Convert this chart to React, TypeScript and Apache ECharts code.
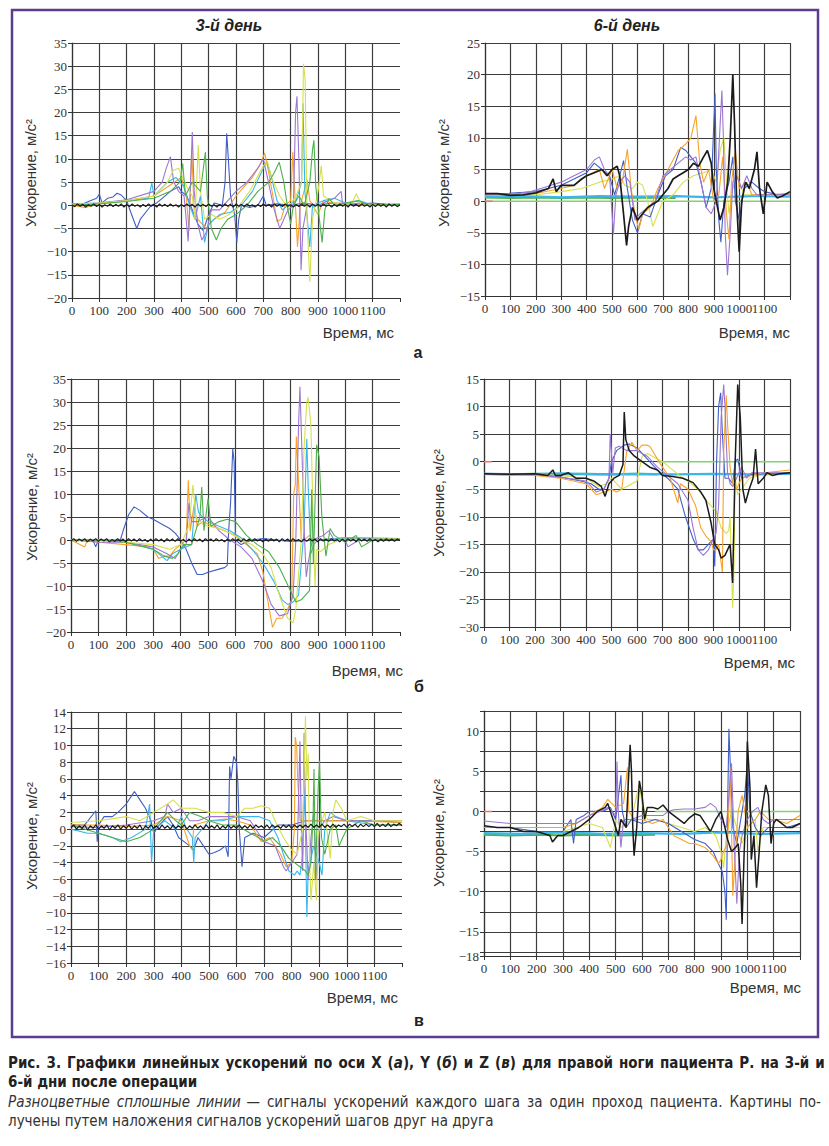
import React, { useEffect, useRef } from 'react';
import * as echarts from 'echarts';

// ---------- DATA (time in ms, acceleration in m/s^2) ----------
const X_TICKS_MAX = 1200;

// Panel а, 3-й день
const a3Blue = [[0,0.5],[30,0],[60,0.8],[90,1.5],[100,2.4],[110,0.5],[130,1.5],[150,1.8],[165,2.6],[180,2.2],[200,1],[215,-1.5],[237,-5],[250,-3],[270,-1.5],[290,0],[310,0.5],[330,1.5],[360,3],[390,4],[400,3],[420,2],[440,-1],[460,-4],[480,-5.5],[500,-2],[520,0.5],[550,0],[560,5],[566,15.5],[572,10],[580,2],[595,-2],[603,-8],[610,-3],[620,0],[650,-0.5],[680,0],[700,2],[710,0],[750,0.3],[800,0],[850,0.5],[900,0],[950,0.5],[1000,0],[1100,0.5],[1200,0]];
const a3Orange = [[0,0],[50,-0.5],[100,0.5],[200,1],[300,2],[350,4],[400,6],[418,2],[428,-5.5],[438,12],[446,0],[460,-3],[490,-5],[520,-3],[560,-1.5],[600,2],[630,4],[660,6],[690,9],[705,11.3],[720,7],[735,2],[750,-3.5],[765,-3],[780,0],[800,1],[808,11.5],[815,3],[825,-9],[835,0],[860,5.5],[870,1],[900,-2],[920,1],[950,0.5],[1000,0.5],[1100,0],[1200,0]];
const a3Cyan = [[0,0.3],[100,0.5],[200,1],[280,1.5],[292,4.8],[300,2],[350,5],[380,6],[410,4],[430,0],[450,-3],[470,2],[485,-8],[500,-4],[540,-2],[580,-1.5],[620,0],[660,3],[700,8],[712,9.5],[730,6],[750,1],[770,-1],[790,0],[820,1],[840,5],[845,22],[852,3],[870,-9],[880,0],[920,1],[960,1.5],[1000,0.5],[1050,1],[1100,0],[1200,0.3]];
const a3Purple = [[0,0.2],[100,0.5],[200,1.2],[300,3],[330,5],[345,8],[360,10.5],[372,5],[390,3],[410,2],[425,-7.8],[432,2],[440,15.8],[447,3],[460,-4],[475,-7.5],[490,-6],[510,-1],[540,-1],[570,1],[600,3],[640,5],[680,8],[700,10],[715,6],[740,-1],[760,-5],[775,-3],[790,-1],[810,0],[818,20],[823,23.5],[830,10],[838,-14],[845,-5],[860,0],[900,0],[960,1.5],[985,3],[990,0],[1050,0.5],[1200,0]];
const a3Yellow = [[0,0.2],[100,0.5],[200,1],[300,2],[350,5],[370,7.5],[390,8],[420,4],[440,2],[450,-3],[462,13],[470,3],[485,-3],[510,-2],[540,-3],[560,-2.5],[600,-1],[650,3],[700,8.5],[715,9.5],[730,6],[760,2],[790,-0.5],[820,2],[840,5],[847,30.5],[853,27],[860,-3],[870,-16.5],[880,-3],[900,3],[912,8.5],[920,2],[960,0.5],[1020,0],[1040,2.5],[1060,0],[1200,0.3]];
const a3Green = [[0,0],[100,0.3],[200,0.8],[300,1.5],[360,3],[395,5],[405,9],[415,2],[440,5],[470,3],[488,11.5],[495,2],[510,-5],[528,-7.5],[545,-5],[570,-3],[600,-2],[640,0],[680,3],[720,5],[740,7],[758,9.3],[775,5],[790,-1],[800,-4],[810,0],[830,2],[850,0],[870,5],[880,12],[885,14],[892,4],[905,-3],[915,-8],[925,-1],[940,1.5],[960,0],[1050,1],[1080,0],[1200,0.2]];
const a3Black = [[0,0.1],[10,-0.3],[20,0.3],[30,-0.2],[40,0.2],[50,-0.4],[60,0.1],[70,-0.2],[80,0.3],[90,-0.3],[100,0.2],[110,-0.4],[120,0.1],[130,-0.2],[140,0.3],[150,-0.3],[160,0.2],[170,-0.2],[180,0.3],[190,-0.4],[200,0.2],[210,-0.3],[220,0.3],[230,-0.2],[240,0.1],[250,-0.4],[260,0.2],[270,-0.3],[280,0.3],[290,-0.2],[300,0.2],[310,-0.4],[320,0.3],[330,-0.2],[340,0.2],[350,-0.3],[360,0.3],[370,-0.2],[380,0.1],[390,-0.4],[400,0.2],[410,-0.3],[420,0.3],[430,-0.2],[440,0.2],[450,-0.4],[460,0.3],[470,-0.2],[480,0.2],[490,-0.3],[500,0.3],[510,-0.2],[520,0.1],[530,-0.4],[540,0.2],[550,-0.3],[560,0.3],[570,-0.2],[580,0.2],[590,-0.4],[600,0.3],[610,-0.2],[620,0.2],[630,-0.3],[640,0.3],[650,-0.2],[660,0.1],[670,-0.4],[680,0.2],[690,-0.3],[700,0.3],[710,-0.2],[720,0.2],[730,-0.4],[740,0.3],[750,-0.2],[760,0.2],[770,-0.3],[780,0.3],[790,-0.2],[800,0.1],[810,-0.4],[820,0.2],[830,-0.3],[840,0.3],[850,-0.2],[860,0.2],[870,-0.4],[880,0.3],[890,-0.2],[900,0.2],[910,-0.3],[920,0.3],[930,-0.2],[940,0.1],[950,-0.4],[960,0.2],[970,-0.3],[980,0.3],[990,-0.2],[1000,0.2],[1010,-0.4],[1020,0.3],[1030,-0.2],[1040,0.2],[1050,-0.3],[1060,0.3],[1070,-0.2],[1080,0.1],[1090,-0.4],[1100,0.2],[1110,-0.3],[1120,0.3],[1130,-0.2],[1140,0.2],[1150,-0.4],[1160,0.3],[1170,-0.2],[1180,0.2],[1190,-0.3],[1200,0.1]];

// Panel а, 6-й день
const a6Black = [[0,1.2],[50,1.2],[100,0.9],[150,1],[200,1.3],[250,2],[268,3.5],[280,1.5],[300,2.5],[350,2.5],[380,3.5],[400,4],[430,4.5],[460,5],[480,4],[500,5],[520,5.5],[530,4],[545,-2],[557,-7],[565,-4],[580,-1],[600,-3],[620,-2],[640,-1],[660,-0.5],[680,0],[700,1],[720,2],[740,3.5],[760,4],[780,4.5],[800,5],[820,6],[840,5.5],[860,7],[875,8],[890,6],[900,2],[910,0],[925,-3],[940,-1],[955,3],[965,10],[975,20],[982,12],[990,0],[1000,-8],[1010,0],[1025,3],[1040,2],[1060,5],[1070,7.8],[1080,2],[1095,-2],[1110,3],[1130,1.5],[1150,0.5],[1170,0.8],[1200,1.5]];
const a6Blue = [[0,1],[200,1.5],[300,2.5],[400,4.5],[430,6],[460,5],[490,4],[510,1],[530,4],[545,6.4],[560,2],[580,-3],[600,-5],[620,-2],[650,-2.5],[680,1],[710,4],[740,5],[770,8.5],[790,8],[810,7],[830,6],[850,3],[870,-1],[890,2],[905,17],[910,5],[920,-3],[928,-6.5],[940,0],[960,3],[975,7],[985,0],[1000,-3],[1020,2],[1050,3],[1080,2],[1100,1.5],[1150,1],[1200,1.2]];
const a6Orange = [[0,1],[200,1.2],[300,2],[350,2.5],[400,4],[450,5],[470,2],[500,5],[520,2],[540,3],[560,8.2],[575,2],[590,-2],[605,-4.5],[620,-2],[650,-1],[680,2],[720,5],[760,8],[790,9],[810,10],[830,13.5],[845,6],[860,3],[880,5],[900,0],[920,1],[935,7],[950,-2],[960,-6],[970,3],[985,8],[1000,2],[1030,3],[1050,1],[1100,1],[1200,1.2]];
const a6Purple = [[0,1],[100,1],[180,1.5],[220,2],[260,2.5],[300,3],[350,4],[400,5],[430,6.5],[450,7],[470,5],[490,4],[500,-2],[505,-5.3],[515,1],[530,3],[550,4],[570,3],[590,-3],[610,-2],[640,-1],[670,0],[700,4],[730,5],[760,6],[790,7],[810,6.5],[830,7],[850,3],[870,-1],[890,-2],[910,0],[925,12],[932,17.5],[938,10],[945,-5],[954,-11.7],[965,-5],[975,3],[990,4],[1010,2],[1030,4],[1050,2],[1070,1],[1100,1],[1200,1]];
const a6Yellow = [[0,1],[200,1],[300,1.5],[380,2],[450,3],[500,3.5],[530,4],[550,2.5],[580,2],[600,3],[620,2.5],[640,0],[660,-4],[680,-2],[700,0],[740,1],[780,3],[820,4],[860,4.5],[890,5],[910,3],[925,8],[940,10],[950,3],[960,-2],[975,2],[990,4],[1020,1],[1060,1],[1200,1]];
const a6Cyan = [[0,0.7],[150,0.8],[300,0.6],[450,0.8],[600,0.7],[750,0.8],[900,0.6],[1050,0.8],[1200,0.7]];
const a6Green = [[0,0.6],[100,0.5],[200,0.6],[300,0.5],[400,0.6],[500,0.5],[600,0.6],[750,0.5]];
const a6Flat = [[0,0],[1200,0]];
const a6Red = [[0,0],[30,0]];

// Panel б, 3-й день
const b3Blue = [[0,0],[80,0],[90,-1.5],[100,0],[180,0],[190,2],[210,5.5],[230,7.2],[250,6.5],[280,5],[300,4.5],[330,3.5],[360,2.5],[380,1.5],[400,0],[420,-2],[440,-5],[460,-7.5],[480,-7.5],[500,-7],[530,-6.5],[560,-6],[570,-5.5],[575,2],[582,8],[590,19.8],[595,17],[600,0],[620,-1],[660,0],[700,0.3],[750,0],[800,-0.3],[900,0],[1000,0],[1100,0.2],[1200,0]];
const b3Orange = [[0,0],[50,-1.5],[60,0],[100,-0.5],[200,-1],[280,-1.5],[300,-2],[320,-4],[340,-3.5],[360,-3.5],[380,-2],[400,-1],[420,0],[428,13],[435,2],[450,8],[460,3],[480,4],[500,3.5],[520,3],[560,2],[600,1],[640,-1],[680,-3],[700,-7],[720,-14],[735,-19],[750,-17],[770,-17],[790,-15],[805,-13],[812,10],[818,12],[822,22.5],[828,15],[840,0],[860,0.5],[870,1],[880,0],[900,0],[1000,0.5],[1200,0.3]];
const b3Cyan = [[0,0],[100,0],[200,-0.5],[300,-2],[350,-4.5],[370,-3],[400,-2],[440,-1],[455,10],[465,6],[480,5],[500,4],[540,3],[580,2],[620,0.5],[660,-2],[700,-5],[740,-9],[770,-13],[790,-14],[810,-13.5],[830,-12],[840,-5],[850,2],[860,22],[866,10],[875,-3],[885,-1],[900,0],[1000,0.5],[1200,0.3]];
const b3Purple = [[0,0],[100,-0.5],[200,-0.5],[300,-1.5],[350,-3],[380,-4],[400,-2],[420,-1],[430,8],[440,4],[460,4],[500,5],[540,2],[580,0],[620,-1.5],[660,-4],[700,-9],[730,-14],[760,-16.5],[790,-16],[810,-12],[820,0],[830,25],[835,33.3],[842,20],[850,3],[858,-8],[865,-5],[880,0],[920,1],[940,2],[960,0],[1000,0],[1010,-1.5],[1050,0],[1200,0.3]];
const b3Yellow = [[0,0],[100,0],[200,-0.5],[300,-1],[360,-2],[400,-1],[430,3],[445,12],[455,5],[480,3.5],[500,3],[540,2.5],[580,1.5],[620,0],[660,-1],[700,-3],[730,-6],[760,-12],[790,-17],[810,-18],[820,-15],[840,0],[850,20],[860,30],[865,31],[875,25],[885,0],[890,-10],[895,-2],[910,-2.5],[940,-1],[980,0],[1200,0.3]];
const b3Green = [[0,0],[100,0],[200,-0.5],[300,-2],[340,-3.5],[370,-4],[390,-3],[410,-1],[440,-1],[470,5],[477,11.5],[485,2],[500,9],[510,3],[540,4],[570,4.5],[600,4],[640,1],[680,-1],[720,-2.5],[760,-6],[800,-11],[820,-13.5],[840,-13],[870,-11],[878,11],[884,-5],[896,20.7],[905,18],[915,5],[930,-3.5],[945,2.5],[960,1],[1000,-0.5],[1040,1],[1060,-1.5],[1100,0],[1200,0.2]];
const b3Black = [[0,-0.2],[10,0.3],[20,-0.3],[30,0.2],[40,-0.2],[50,0.3],[60,-0.4],[70,0.2],[80,-0.2],[90,0.3],[100,-0.3],[110,0.2],[120,-0.2],[130,0.3],[140,-0.4],[150,0.1],[160,-0.3],[170,0.3],[180,-0.2],[190,0.2],[200,-0.4],[210,0.3],[220,-0.2],[230,0.2],[240,-0.3],[250,0.3],[260,-0.2],[270,0.1],[280,-0.4],[290,0.2],[300,-0.3],[310,0.3],[320,-0.2],[330,0.2],[340,-0.4],[350,0.3],[360,-0.2],[370,0.2],[380,-0.3],[390,0.3],[400,-0.2],[410,0.1],[420,-0.4],[430,0.2],[440,-0.3],[450,0.3],[460,-0.2],[470,0.2],[480,-0.4],[490,0.3],[500,-0.2],[510,0.2],[520,-0.3],[530,0.3],[540,-0.2],[550,0.1],[560,-0.4],[570,0.2],[580,-0.3],[590,0.3],[600,-0.2],[610,0.2],[620,-0.4],[630,0.3],[640,-0.2],[650,0.2],[660,-0.3],[670,0.3],[680,-0.2],[690,0.1],[700,-0.4],[710,0.2],[720,-0.3],[730,0.3],[740,-0.2],[750,0.2],[760,-0.4],[770,0.3],[780,-0.2],[790,0.2],[800,-0.3],[810,0.3],[820,-0.2],[830,0.1],[840,-0.4],[850,0.2],[860,-0.3],[870,0.3],[880,-0.2],[890,0.2],[900,-0.4],[910,0.3],[920,-0.2],[930,0.2],[940,-0.3],[950,0.3],[960,-0.2],[970,0.1],[980,-0.4],[990,0.2],[1000,-0.3],[1010,0.3],[1020,-0.2],[1030,0.2],[1040,-0.4],[1050,0.3],[1060,-0.2],[1070,0.2],[1080,-0.3],[1090,0.3],[1100,-0.2],[1110,0.1],[1120,-0.4],[1130,0.2],[1140,-0.3],[1150,0.3],[1160,-0.2],[1170,0.2],[1180,-0.3],[1190,0.2],[1200,-0.1]];

// Panel б, 6-й день
const b6Black = [[0,-2.2],[100,-2.3],[200,-2.2],[250,-2.5],[270,-1.5],[280,-2.5],[300,-2.5],[330,-2],[360,-3],[400,-3],[430,-3.5],[460,-4.5],[475,-6.3],[490,-4],[510,-3],[530,-2.5],[545,-0.5],[550,9],[556,4],[570,2],[590,1],[620,0],[650,-1],[680,-1.5],[700,-2.5],[740,-2.7],[780,-3],[820,-3.8],[850,-5.5],[870,-7],[890,-11],[905,-15],[920,-16],[930,-17.5],[945,-17],[965,-15],[975,-22],[985,0],[995,14],[1005,8],[1015,-5],[1025,-7.5],[1040,-5],[1055,-3],[1065,2.3],[1075,-4],[1095,-3],[1110,-2],[1130,-2.5],[1160,-2.2],[1200,-2]];
const b6Blue = [[0,-2.3],[200,-2.3],[300,-2.8],[380,-3.5],[420,-4],[450,-5],[470,-5],[490,-3],[500,0],[520,2],[550,3],[570,3.2],[600,2.5],[620,1.5],[650,0],[680,-1.5],[720,-3],[760,-5],[790,-10],[820,-14],[840,-16],[860,-16],[880,-15],[900,-14],[905,-19],[912,0],[920,10],[928,12.5],[935,5],[945,-3],[960,-3],[975,-4],[985,0],[995,0.5],[1010,-3],[1050,-2.3],[1100,-2.2],[1200,-2]];
const b6Orange = [[0,-2.3],[200,-2.5],[300,-3],[400,-4],[440,-6],[470,-5.5],[500,-5],[520,-5.5],[540,-5],[560,2],[580,3.5],[600,2],[620,3],[640,3],[650,2.8],[680,0.5],[700,-1],[730,-3],[750,-6],[760,-7.5],[770,-4],[800,-5],[830,-8],[850,-12],[870,-13.5],[890,-14.5],[900,-16],[910,-16],[920,-15],[935,-20],[940,2],[950,12],[955,7],[965,-1],[975,-4],[990,-5],[1010,-3],[1050,-2.5],[1100,-2],[1200,-1.5]];
const b6Purple = [[0,-2.3],[200,-2.3],[300,-2.8],[400,-3.5],[440,-5.5],[470,-5],[490,-3],[495,5],[505,-2],[515,2.5],[530,2.8],[560,2],[600,2],[640,1],[680,-1],[720,-2.5],[760,-4],[800,-7],[820,-12],[840,-16],[860,-17],[880,-16],[900,-14],[910,-13],[920,-8],[930,8],[940,14],[945,10],[955,-2],[965,-4],[975,-4.5],[990,-3],[1010,-1],[1030,-3],[1050,-2],[1100,-2],[1200,-2]];
const b6Yellow = [[0,-2.3],[200,-2.3],[300,-2.5],[400,-3],[450,-4.5],[480,-4],[500,-3],[520,-4],[540,-5],[560,-4.5],[580,-4],[600,-3.5],[620,1],[640,1.5],[660,1],[700,0],[740,-1.5],[780,-3],[800,-3.5],[840,-5],[870,-7],[890,-8],[910,-9],[930,-12],[950,-13],[960,-12.5],[965,-10],[975,-26.5],[980,-20],[985,-3],[995,-6],[1010,-5],[1040,-3],[1080,-2.5],[1200,-2]];
const b6Cyan = [[0,-2.2],[150,-2.3],[300,-2.1],[450,-2.3],[600,-2.2],[750,-2.3],[900,-2.2],[1050,-2.3],[1200,-2.2]];
const b6Green = [[0,-2.2],[100,-2.3],[200,-2.2],[300,-2.3],[400,-2.2],[500,-2.3],[600,-2.2],[680,-2.3]];
const b6Flat = [[680,0],[1200,0]];
const b6Red = [[0,0],[30,0]];

// Panel в, 3-й день
const c3Blue = [[0,0.5],[50,0.5],[90,2.2],[95,-1.5],[100,0.5],[120,1.5],[150,1.5],[170,2],[200,3],[220,4],[230,4.5],[250,3.5],[270,2.5],[290,1],[300,-0.5],[320,0.5],[350,1.5],[370,0.5],[390,-1],[410,-1.5],[430,-2],[445,-2.5],[460,-1],[480,-2],[500,-3],[520,-2.8],[540,-2.5],[560,-2],[570,-3.3],[575,7.5],[580,6],[590,8.7],[600,8],[605,5.5],[610,0],[620,-4.5],[630,-1],[660,-0.5],[700,-1],[750,0.5],[800,0.5],[850,1],[900,1],[950,1],[1000,1],[1100,1],[1200,0.8]];
const c3Orange = [[0,0.5],[100,0.5],[200,0.3],[300,0.5],[350,1.5],[400,1],[430,-2],[440,-2.5],[445,0.5],[500,1],[560,1.2],[600,1],[650,0.5],[690,-1.5],[720,-1],[760,-3],[780,-4.5],[800,-4],[810,0],[813,11],[818,10],[822,6],[830,1],[850,1],[900,1],[1000,1],[1200,0.8]];
const c3Cyan = [[0,0],[60,-0.5],[100,-0.5],[150,-1],[180,-1.5],[220,-1],[270,0],[285,3],[292,-4],[300,0],[340,1],[380,0],[400,1.5],[420,0],[440,-1],[445,-4],[450,-1],[500,1],[550,1],[600,1.5],[640,1.5],[680,1.5],[720,1],[750,-1],[770,-3],[790,-5],[810,-5.5],[820,-5],[830,-5.5],[840,-3],[845,5],[850,0],[855,-10.5],[860,-5],[880,-2],[900,-4],[910,-5.5],[920,0],[940,2],[960,1.5],[1000,1],[1100,0.5],[1200,0.5]];
const c3Purple = [[0,0.3],[100,0.2],[200,0.5],[300,1],[340,1.5],[350,3],[370,2],[400,2.5],[430,1],[460,1],[500,1.5],[550,1.5],[600,1.5],[650,1],[700,-1.5],[740,-2],[770,-4.5],[780,-5],[800,-4],[820,-3],[830,10.5],[835,0],[840,-5],[845,11.5],[850,2],[855,-2],[860,-6],[870,-1],[880,2],[890,-6],[900,0],[920,1],[950,1.5],[1000,1],[1100,1],[1200,1]];
const c3Yellow = [[0,0.8],[100,1],[200,1.5],[250,1],[300,2],[350,3],[370,3.5],[400,2.5],[450,2.5],[500,2],[550,2],[600,1.5],[630,2.5],[660,2.5],[690,2.8],[720,2.5],[740,1],[770,-1],[800,-2.5],[820,-3],[840,0],[850,13.5],[855,6],[860,9],[865,-4],[870,-8.5],[880,-4],[890,-8.5],[895,-1],[900,0],[920,2],[940,-3.5],[950,2],[960,3.5],[980,2.5],[1000,1],[1050,1.5],[1100,1],[1200,1]];
const c3Green = [[0,0.5],[100,-0.5],[150,-1],[200,-1.5],[250,-1],[300,0],[350,2],[380,1],[400,0.5],[430,2],[470,1.5],[500,1],[550,0.5],[600,0.5],[650,-0.5],[680,-1],[700,-1.5],[730,-1],[760,-2],[790,-3.5],[810,-4],[830,-4.5],[850,-5],[860,-5.5],[870,-4],[878,2],[881,7.2],[886,-6],[895,4],[901,8.2],[908,-1],[920,-3],[940,0],[960,0.5],[972,-2],[985,-1],[1000,0],[1050,1],[1100,0.5],[1200,0.5]];
const c3Black = [[0,0.2],[10,0.5],[20,0],[30,0.4],[40,0.1],[50,0.5],[60,-0.1],[70,0.4],[80,0.1],[90,0.5],[100,0],[110,0.4],[120,0.1],[130,0.5],[140,-0.1],[150,0.4],[160,0.1],[170,0.5],[180,0],[190,0.4],[200,0.1],[210,0.5],[220,0],[230,0.4],[240,0.1],[250,0.5],[260,-0.1],[270,0.4],[280,0.1],[290,0.5],[300,0.1],[310,0.4],[320,0],[330,0.5],[340,0.1],[350,0.4],[360,0],[370,0.5],[380,0.1],[390,0.4],[400,0.1],[410,0.5],[420,0],[430,0.4],[440,0.1],[450,0.5],[460,0.1],[470,0.4],[480,0],[490,0.5],[500,0.1],[510,0.4],[520,0.1],[530,0.5],[540,0],[550,0.4],[560,0.1],[570,0.5],[580,0.1],[590,0.4],[600,0.1],[610,0.5],[620,0.1],[630,0.4],[640,0.1],[650,0.5],[660,0.1],[670,0.5],[680,0.2],[690,0.4],[700,0.1],[710,0.5],[720,0.1],[730,0.5],[740,0.2],[750,0.4],[760,0.1],[770,0.5],[780,0.2],[790,0.5],[800,0.1],[810,0.5],[820,0.2],[830,0.5],[840,0.2],[850,0.5],[860,0.2],[870,0.6],[880,0.2],[890,0.5],[900,0.2],[910,0.6],[920,0.2],[930,0.5],[940,0.2],[950,0.6],[960,0.2],[970,0.5],[980,0.3],[990,0.6],[1000,0.2],[1010,0.6],[1020,0.3],[1030,0.6],[1040,0.2],[1050,0.6],[1060,0.3],[1070,0.6],[1080,0.3],[1090,0.6],[1100,0.3],[1110,0.7],[1120,0.3],[1130,0.6],[1140,0.3],[1150,0.7],[1160,0.3],[1170,0.6],[1180,0.4],[1190,0.7],[1200,0.4]];

// Panel в, 6-й день
const c6Black = [[0,-1.8],[50,-2],[100,-2],[150,-2.5],[200,-2.5],[250,-3],[260,-3.8],[280,-3],[300,-3],[330,-2.5],[360,-2],[400,-1],[430,0],[460,0.5],[470,1],[490,-1],[500,-2],[510,-3],[520,-1],[540,-2],[555,8.3],[560,5],[565,-2],[570,-5.5],[580,-2],[590,3.8],[600,2],[610,-1],[620,0.5],[640,0.5],[660,0.3],[680,0.8],[700,0],[720,-0.5],[740,-1],[760,-1.5],[780,-0.8],[800,-0.3],[820,-0.5],[840,-1.5],[860,-2.5],[880,-1],[900,0],[915,-2],[925,-3.5],[940,-5],[955,-4.5],[965,-4],[975,-9],[980,-14],[988,-5],[995,0],[1000,8.7],[1010,3],[1015,-6],[1025,-3],[1035,-9.5],[1045,-5],[1055,0],[1070,3.3],[1080,2],[1090,-4],[1100,-1.5],[1110,-1],[1130,-1.5],[1150,-2],[1170,-2],[1200,-1.5]];
const c6Blue = [[0,-2],[100,-2],[200,-2.5],[300,-2.5],[330,-1],[340,-4],[350,-1],[380,-0.5],[400,0],[450,0],[480,0.5],[500,-1],[520,4.5],[525,0],[540,-2],[560,-1],[600,-1.5],[650,-1],[700,-1.5],[750,-2.5],[800,-3.5],[840,-4],[870,-5],[890,-6.5],[905,-7.5],[915,-10],[920,-13.5],[925,0],[930,10.3],[935,6],[945,-2],[960,-4],[975,-1],[990,2],[1000,6],[1010,0],[1030,-2],[1050,-3],[1080,-2],[1100,-2],[1150,-2],[1200,-1.5]];
const c6Orange = [[0,-2],[100,-2],[200,-2],[300,-2],[350,-1.5],[400,-0.5],[450,0.5],[470,1.5],[500,0.5],[530,1],[545,5.5],[550,0],[570,-1],[600,-1],[640,-1.5],[680,-1],[700,-2],[720,-3],[750,-3.5],[780,-4],[800,-4],[840,-4.5],[870,-5.5],[890,-6.5],[900,-6],[910,-5],[925,-4],[935,5.5],[945,-10.5],[955,-5],[965,0],[980,2],[1000,-2],[1030,-1],[1050,0],[1080,-1],[1100,-1],[1150,-1.5],[1200,-0.5]];
const c6Purple = [[0,-1.2],[100,-1.5],[200,-1.5],[300,-1.5],[350,-1.5],[400,-0.5],[440,0],[470,0.5],[500,-0.5],[505,6.2],[510,0],[520,-4.5],[530,-1],[560,-1],[600,-0.5],[640,-0.5],[680,-0.5],[700,0],[720,0.2],[760,0.3],[800,0.3],[840,0.5],[860,1],[880,0.5],[900,-1],[920,-2],[930,2],[940,6],[950,-4],[960,-11.5],[970,-5],[980,-3],[1000,-1],[1020,0],[1040,0.5],[1060,-1],[1080,-1.5],[1100,-1],[1150,-1],[1200,-1]];
const c6Yellow = [[0,-2],[100,-2],[200,-2.5],[300,-2.5],[350,-2],[400,-1.5],[450,-2],[480,-4.5],[500,-1],[520,-2],[540,-1.5],[560,-1],[590,3.5],[600,1],[620,-1],[660,-1],[700,-1.5],[750,-2],[800,-2.5],[840,-2],[860,-2.5],[880,-3],[900,-5],[910,-7],[920,-3],[940,0],[960,-2],[980,-4],[1000,-2],[1030,-1],[1040,-5],[1060,-2],[1080,-2],[1200,-2]];
const c6Cyan = [[0,-2.7],[150,-2.8],[300,-2.6],[450,-2.8],[600,-2.7],[750,-2.8],[900,-2.6],[1050,-2.8],[1200,-2.7]];
const c6Green = [[0,-2.9],[100,-3],[200,-2.9],[300,-3],[400,-2.9],[500,-3],[650,-2.9]];
const c6Flat = [[650,0],[1200,0]];
const c6Red = [[0,0],[30,0]];

// Tick label values
const X_LABEL_HIDE = 1200;
const C6_Y_TICKS = [-18, -17.5, -15, -12.5, -10, -7.5, -5, -2.5, 0, 2.5, 5, 7.5, 10, 12.5];
const C6_Y_LABELS = [-18, -15, -10, -5, 0, 5, 10];

// ---------- STYLE ----------
const C = {
  blue: '#3f5fc6',
  orange: '#f8a229',
  cyan: '#39b6ec',
  purple: '#9d76d4',
  yellow: '#d6e04c',
  green: '#4cb04b',
  black: '#1b1b1b',
  flat: '#86d26f',
  red: '#ff6b6b',
};
const GRID = '#3d3d3d';
const SERIF = 'Liberation Serif, DejaVu Serif, serif';
const SANS = 'Liberation Sans, Arial, sans-serif';
const NARROW = 'Liberation Sans Narrow, DejaVu Sans Condensed, Roboto Condensed, sans-serif';

type Line = { data: number[][]; color: string; width?: number };
type Panel = {
  left: number; top: number; width: number; height: number;
  yMin: number; yMax: number; yInterval?: number;
  yTicks?: number[]; yLabels?: number[];
  isLeft: boolean;
  lines: Line[];
};

const panels: Panel[] = [
  {
    left: 72, top: 43, width: 328, height: 255, yMin: -20, yMax: 35, yInterval: 5, isLeft: true,
    lines: [
      { data: a3Blue, color: C.blue }, { data: a3Orange, color: C.orange }, { data: a3Cyan, color: C.cyan },
      { data: a3Purple, color: C.purple }, { data: a3Yellow, color: C.yellow }, { data: a3Green, color: C.green },
      { data: a3Black, color: C.black, width: 1.2 },
    ],
  },
  {
    left: 485, top: 43, width: 305, height: 253, yMin: -15, yMax: 25, yInterval: 5, isLeft: false,
    lines: [
      { data: a6Flat, color: C.flat, width: 1.5 }, { data: a6Green, color: C.green, width: 2.2 }, { data: a6Cyan, color: C.cyan, width: 2.2 },
      { data: a6Red, color: C.red, width: 1.5 },
      { data: a6Yellow, color: C.yellow }, { data: a6Blue, color: C.blue }, { data: a6Orange, color: C.orange },
      { data: a6Purple, color: C.purple }, { data: a6Black, color: C.black, width: 1.7 },
    ],
  },
  {
    left: 71, top: 379, width: 329, height: 253, yMin: -20, yMax: 35, yInterval: 5, isLeft: true,
    lines: [
      { data: b3Blue, color: C.blue }, { data: b3Orange, color: C.orange }, { data: b3Cyan, color: C.cyan },
      { data: b3Purple, color: C.purple }, { data: b3Yellow, color: C.yellow }, { data: b3Green, color: C.green },
      { data: b3Black, color: C.black, width: 1.2 },
    ],
  },
  {
    left: 484, top: 379, width: 306, height: 248, yMin: -30, yMax: 15, yInterval: 5, isLeft: false,
    lines: [
      { data: b6Flat, color: C.flat, width: 1.5 }, { data: b6Green, color: C.green, width: 2.2 }, { data: b6Cyan, color: C.cyan, width: 2.2 },
      { data: b6Red, color: C.red, width: 1.5 },
      { data: b6Yellow, color: C.yellow }, { data: b6Blue, color: C.blue }, { data: b6Orange, color: C.orange },
      { data: b6Purple, color: C.purple }, { data: b6Black, color: C.black, width: 1.5 },
    ],
  },
  {
    left: 71, top: 712, width: 331, height: 251, yMin: -16, yMax: 14, yInterval: 2, isLeft: true,
    lines: [
      { data: c3Blue, color: C.blue }, { data: c3Orange, color: C.orange }, { data: c3Cyan, color: C.cyan },
      { data: c3Purple, color: C.purple }, { data: c3Yellow, color: C.yellow }, { data: c3Green, color: C.green },
      { data: c3Black, color: C.black, width: 1.2 },
    ],
  },
  {
    left: 484, top: 711, width: 316, height: 245, yMin: -18, yMax: 12.5, yTicks: C6_Y_TICKS, yLabels: C6_Y_LABELS, isLeft: false,
    lines: [
      { data: c6Flat, color: C.flat, width: 1.5 }, { data: c6Green, color: C.green, width: 2.2 }, { data: c6Cyan, color: C.cyan, width: 2.2 },
      { data: c6Red, color: C.red, width: 1.5 },
      { data: c6Yellow, color: C.yellow }, { data: c6Blue, color: C.blue }, { data: c6Orange, color: C.orange },
      { data: c6Purple, color: C.purple }, { data: c6Black, color: C.black, width: 1.5 },
    ],
  },
];

const minus = (v: number) => String(v).replace('-', '\u2212');
// widen word gaps to imitate the justified caption lines
const HAIR = ' \u200A';
const THIN = ' \u2009';

function buildOption() {
  const grid: any[] = [];
  const xAxis: any[] = [];
  const yAxis: any[] = [];
  const series: any[] = [];
  panels.forEach((p, i) => {
    grid.push({ left: p.left, top: p.top, width: p.width, height: p.height, containLabel: false });
    xAxis.push({
      gridIndex: i, type: 'value', min: 0, max: X_TICKS_MAX, interval: 100,
      axisLine: { show: true, onZero: false, lineStyle: { color: '#333', width: 1.2 } },
      axisTick: { show: true, length: 4, lineStyle: { color: '#333' } },
      axisLabel: {
        fontFamily: SERIF, fontSize: 13, color: '#333', margin: 6,
        formatter: (v: number) => (v === X_LABEL_HIDE ? '' : String(v)),
      },
      splitLine: { show: true, showMaxLine: !p.isLeft, lineStyle: { color: GRID, width: 1.2 } },
    });
    const y: any = {
      gridIndex: i, type: 'value', min: p.yMin, max: p.yMax,
      axisLine: { show: true, onZero: false, lineStyle: { color: '#333', width: 1.2 } },
      axisTick: { show: true, length: 4, lineStyle: { color: '#333' } },
      axisLabel: { fontFamily: SERIF, fontSize: 13, color: '#333', margin: 5, formatter: (v: number) => minus(v) },
      splitLine: { show: true, lineStyle: { color: GRID, width: 1.2 } },
    };
    if (p.yInterval) y.interval = p.yInterval;
    if (p.yTicks) {
      y.axisTick.customValues = p.yTicks;
      y.axisLabel.customValues = p.yLabels;
    }
    yAxis.push(y);
    p.lines.forEach((l) => {
      series.push({
        type: 'line', xAxisIndex: i, yAxisIndex: i, data: l.data, showSymbol: false, symbol: 'none',
        silent: true, clip: true,
        lineStyle: { color: l.color, width: l.width ?? 1.1 },
      });
    });
  });

  const yName = (x: number, y: number) => ({
    type: 'text', x, y, rotation: Math.PI / 2,
    style: { text: 'Ускорение, м/с²', font: `15px ${SANS}`, fill: '#333', textAlign: 'center', textVerticalAlign: 'middle' },
  });
  const xName = (xRight: number, y: number) => ({
    type: 'text', x: xRight, y,
    style: { text: 'Время, мс', font: `15px ${SANS}`, fill: '#333', textAlign: 'right', textVerticalAlign: 'middle' },
  });
  const letter = (t: string, x: number, y: number) => ({
    type: 'text', x, y,
    style: { text: t, font: `bold 16px ${SANS}`, fill: '#222', textAlign: 'center', textVerticalAlign: 'middle' },
  });

  const line1 = '{b|Рис. 3. Графики линейных ускорений по оси X (}{bi|а}{b|), Y (}{bi|б}{b|) и Z (}{bi|в}{b|) для правой ноги пациента Р. на 3-й и}'.split(' ').join(HAIR);
  const line3 = '{i|Разноцветные сплошные линии} {n|— сигналы ускорений каждого шага за один проход пациента. Картины по-}'.split(' ').join(THIN);

  const graphic: any[] = [
    { type: 'rect', shape: { x: 12, y: 10, width: 806, height: 1027 }, style: { fill: 'none', stroke: '#5b3d90', lineWidth: 2.5 } },
    { type: 'text', x: 229, y: 25, style: { text: '3-й день', font: `italic bold 16px ${SANS}`, fill: '#222', textAlign: 'center', textVerticalAlign: 'middle' } },
    { type: 'text', x: 627, y: 25, style: { text: '6-й день', font: `italic bold 16px ${SANS}`, fill: '#222', textAlign: 'center', textVerticalAlign: 'middle' } },
    yName(30, 173), yName(443, 173), yName(31, 507), yName(438, 503), yName(31, 836), yName(438, 833),
    xName(394, 332), xName(790, 332), xName(403, 670), xName(795, 662), xName(398, 997), xName(801, 987),
    letter('а', 418, 352), letter('б', 419, 686), letter('в', 419, 1020),
    {
      type: 'text', x: 8, y: 1063,
      style: {
        text: line1,
        textVerticalAlign: 'middle',
        rich: {
          b: { font: `bold 15px ${NARROW}`, fill: '#222' },
          bi: { font: `italic bold 15px ${NARROW}`, fill: '#222' },
        },
      },
    },
    { type: 'text', x: 8, y: 1082, style: { text: '6-й дни после операции', font: `bold 15px ${NARROW}`, fill: '#222', textVerticalAlign: 'middle' } },
    {
      type: 'text', x: 8, y: 1102,
      style: {
        text: line3,
        textVerticalAlign: 'middle',
        rich: {
          i: { font: `italic 15px ${NARROW}`, fill: '#333' },
          n: { font: `15px ${NARROW}`, fill: '#333' },
        },
      },
    },
    { type: 'text', x: 8, y: 1121, style: { text: 'лучены путем наложения сигналов ускорений шагов друг на друга', font: `15px ${NARROW}`, fill: '#333', textVerticalAlign: 'middle' } },
  ];

  return { animation: false, backgroundColor: '#ffffff', grid, xAxis, yAxis, series, graphic };
}

export default function App() {
  const ref = useRef<HTMLDivElement>(null);
  useEffect(() => {
    document.body.style.margin = '0';
    document.body.style.overflow = 'hidden';
    if (!ref.current) return;
    const chart = echarts.init(ref.current, undefined, { renderer: 'svg' });
    chart.setOption(buildOption() as any);
    return () => chart.dispose();
  }, []);
  return <div ref={ref} style={{ width: 829, height: 1146 }} />;
}
